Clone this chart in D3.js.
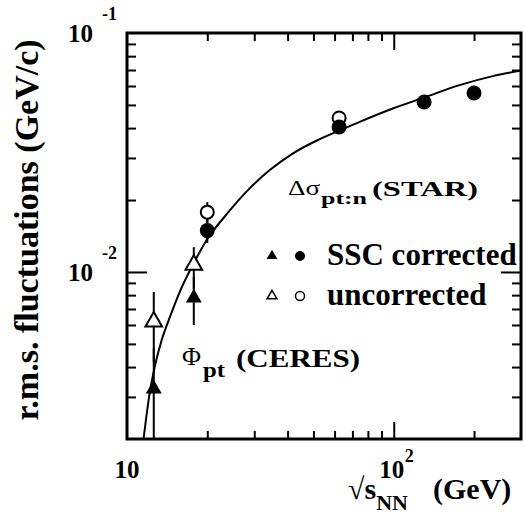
<!DOCTYPE html>
<html>
<head>
<meta charset="utf-8">
<script src="https://cdn.jsdelivr.net/npm/d3@7"></script>
<style>
  body { margin: 0; background: #fff; }
</style>
</head>
<body>
<div id="chart"></div>
<script>
// CERES (Phi_pt) points, sqrt(s_NN) in GeV
const ceresEnergy = [12.6, 17.8];
const ceresCorr = [0.00324, 0.00778];
const ceresCorrLo = [0.0015, 0.0060];
const ceresCorrHi = [0.0048, 0.0095];
const ceresUncorr = [0.0062, 0.0107];
const ceresUncorrLo = [0.0042, 0.0085];
const ceresUncorrHi = [0.00825, 0.0127];

// STAR (Delta sigma_pt:n) points
const starEnergy = [20, 62.4, 130, 200];
const starCorr = [0.0149, 0.0404, 0.0514, 0.0561];
const starCorrErr = [0.0017, 0, 0, 0];
const starUncorrEnergy = [20, 62.4];
const starUncorr = [0.0178, 0.0441];
const starUncorrErr = [0.0018, 0];

// trend curve
const curveEnergy = [11.55, 12.1, 12.7, 13.5, 14.5, 15.8, 17.5, 19.9, 23.9, 28.4, 34.3, 41.8, 51.5, 61.2, 74.6, 99.2, 133, 176.6, 235, 300];
const curveValue = [0.00202, 0.0030, 0.0040, 0.0052, 0.0065, 0.0083, 0.0105, 0.0136, 0.0177, 0.0220, 0.0267, 0.0313, 0.0355, 0.0387, 0.0425, 0.0483, 0.0542, 0.0605, 0.0660, 0.0697];

// ticks
const xMinorTicks = [20, 30, 40, 50, 60, 70, 80, 90, 200];
const xMajorTicks = [100];
const yMinorTicks = [0.003, 0.004, 0.005, 0.006, 0.007, 0.008, 0.009, 0.02, 0.03, 0.04, 0.05, 0.06, 0.07, 0.08, 0.09];
const yMajorTicks = [0.01];
const xTickLabels = [{ v: 10, base: "10", exp: "" }, { v: 100, base: "10", exp: "2" }];
const yTickLabels = [{ v: 0.1, base: "10", exp: "-1" }, { v: 0.01, base: "10", exp: "-2" }];

const width = 524, height = 521;
const frame = { left: 127, top: 33, right: 521, bottom: 439 };
const serif = "Liberation Serif";

const svg = d3.select("#chart").append("svg")
    .attr("width", width)
    .attr("height", height);

// text helper: serif, bold by default
const label = (px, py, size, str, bold = true) => svg.append("text")
    .attr("x", px).attr("y", py)
    .style("font-family", serif)
    .style("font-size", size + "px")
    .style("font-weight", bold ? "bold" : "normal")
    .attr("fill", "#000")
    .text(str);

const x = d3.scaleLog().domain([10, 300]).range([frame.left, frame.right]);
const y = d3.scaleLog().domain([0.002, 0.1]).range([frame.bottom, frame.top]);

svg.append("clipPath").attr("id", "plotclip")
  .append("rect")
    .attr("x", frame.left).attr("y", frame.top)
    .attr("width", frame.right - frame.left)
    .attr("height", frame.bottom - frame.top);

// Axes ticks (all four sides)
const tickStyle = g => {
  g.select(".domain").remove();
  g.selectAll("line").attr("stroke", "#000").attr("stroke-width", 2);
  g.selectAll("text").remove();
};
const addX = (ticks, size) => {
  svg.append("g").attr("transform", `translate(0,${frame.bottom})`)
    .call(d3.axisTop(x).tickValues(ticks).tickSize(size)).call(tickStyle);
  svg.append("g").attr("transform", `translate(0,${frame.top})`)
    .call(d3.axisBottom(x).tickValues(ticks).tickSize(size)).call(tickStyle);
};
const addY = (ticks, size) => {
  svg.append("g").attr("transform", `translate(${frame.left},0)`)
    .call(d3.axisRight(y).tickValues(ticks).tickSize(size)).call(tickStyle);
  svg.append("g").attr("transform", `translate(${frame.right},0)`)
    .call(d3.axisLeft(y).tickValues(ticks).tickSize(size)).call(tickStyle);
};
addX(xMinorTicks, 8);
addX(xMajorTicks, 17);
addY(yMinorTicks, 9);
addY(yMajorTicks, 20);

// frame
svg.append("rect")
    .attr("x", frame.left).attr("y", frame.top)
    .attr("width", frame.right - frame.left)
    .attr("height", frame.bottom - frame.top)
    .attr("fill", "none").attr("stroke", "#000").attr("stroke-width", 3);

// tick labels
xTickLabels.forEach(d => {
  label(x(d.v) - (d.exp ? 2 : 0), 478, 25, d.base).attr("text-anchor", "middle");
  if (d.exp) label(x(d.v) + 11, 462, 18, d.exp);
});
yTickLabels.forEach(d => {
  label(93, y(d.v) + 9, 25, d.base).attr("text-anchor", "end");
  label(102, y(d.v) - 13, 18, d.exp);
});

// axis titles
label(0, 0, 34, "r.m.s. fluctuations (GeV/c)")
    .attr("transform", "translate(38,230) rotate(-90)")
    .attr("text-anchor", "middle");

const xt = label(348, 499, 30, "");
xt.append("tspan").style("font-weight", "normal").text("\u221A");
xt.append("tspan").text("s");
xt.append("tspan").style("font-size", "22px").attr("dy", 11).text("NN");
xt.append("tspan").attr("x", 433).attr("dy", -11).text("(GeV)");

// curve
const plot = svg.append("g").attr("clip-path", "url(#plotclip)");
const curvePts = curveEnergy.map((e, i) => [e, curveValue[i]]);
plot.append("path")
    .datum(curvePts)
    .attr("fill", "none").attr("stroke", "#000").attr("stroke-width", 2)
    .attr("d", d3.line().x(d => x(d[0])).y(d => y(d[1])).curve(d3.curveMonotoneX));

// error bars
const bar = (e, lo, hi) => {
  if (hi <= lo) return;
  plot.append("line")
      .attr("x1", x(e)).attr("x2", x(e))
      .attr("y1", y(lo)).attr("y2", y(hi))
      .attr("stroke", "#000").attr("stroke-width", 2);
};
ceresEnergy.forEach((e, i) => {
  bar(e, ceresCorrLo[i], ceresCorrHi[i]);
  bar(e, ceresUncorrLo[i], ceresUncorrHi[i]);
});
starEnergy.forEach((e, i) => bar(e, starCorr[i] - starCorrErr[i], starCorr[i] + starCorrErr[i]));
starUncorrEnergy.forEach((e, i) => bar(e, starUncorr[i] - starUncorrErr[i], starUncorr[i] + starUncorrErr[i]));

// markers: open first, filled on top
const tri = d3.symbol().type(d3.symbolTriangle);
plot.selectAll(".ceres-open").data(ceresEnergy).enter().append("path")
    .attr("d", tri.size(120)())
    .attr("transform", (d, i) => `translate(${x(d)},${y(ceresUncorr[i])})`)
    .attr("fill", "#fff").attr("stroke", "#000").attr("stroke-width", 2);
plot.selectAll(".star-open").data(starUncorrEnergy).enter().append("circle")
    .attr("cx", d => x(d)).attr("cy", (d, i) => y(starUncorr[i]))
    .attr("r", 6.5)
    .attr("fill", "#fff").attr("stroke", "#000").attr("stroke-width", 2);
plot.selectAll(".ceres-full").data(ceresEnergy).enter().append("path")
    .attr("d", tri.size(110)())
    .attr("transform", (d, i) => `translate(${x(d)},${y(ceresCorr[i])})`)
    .attr("fill", "#000");
plot.selectAll(".star-full").data(starEnergy).enter().append("circle")
    .attr("cx", d => x(d)).attr("cy", (d, i) => y(starCorr[i]))
    .attr("r", 7.5)
    .attr("fill", "#000");

// legend
const legendRows = [
  { label: "SSC corrected", filled: true, cy: 256, base: 265 },
  { label: "uncorrected", filled: false, cy: 296, base: 305 }
];
legendRows.forEach(r => {
  svg.append("path")
      .attr("d", d3.symbol().type(d3.symbolTriangle).size(r.filled ? 50 : 42)())
      .attr("transform", `translate(272,${r.cy})`)
      .attr("fill", r.filled ? "#000" : "#fff")
      .attr("stroke", "#000").attr("stroke-width", r.filled ? 0 : 1.5);
  svg.append("circle")
      .attr("cx", 300).attr("cy", r.cy).attr("r", r.filled ? 5 : 4.5)
      .attr("fill", r.filled ? "#000" : "#fff")
      .attr("stroke", "#000").attr("stroke-width", r.filled ? 0 : 1.5);
  label(327, r.base, 31, r.label);
});

// experiment labels, pieces placed to match the original
const pieces = [
  { t: "\u0394\u03C3", x: 288, y: 195, w: 32, size: 22, bold: false },
  { t: "pt:n", x: 321, y: 204, w: 46, size: 17, bold: true },
  { t: "(STAR)", x: 372, y: 196, w: 106, size: 22, bold: true },
  { t: "\u03A6", x: 182, y: 365, w: 19, size: 26, bold: false },
  { t: "pt", x: 203, y: 377, w: 22, size: 20, bold: true },
  { t: "(CERES)", x: 236, y: 367, w: 124, size: 25, bold: true }
];
pieces.forEach(p => {
  label(p.x, p.y, p.size, p.t, p.bold)
      .attr("textLength", p.w).attr("lengthAdjust", "spacingAndGlyphs");
});
</script>
</body>
</html>
